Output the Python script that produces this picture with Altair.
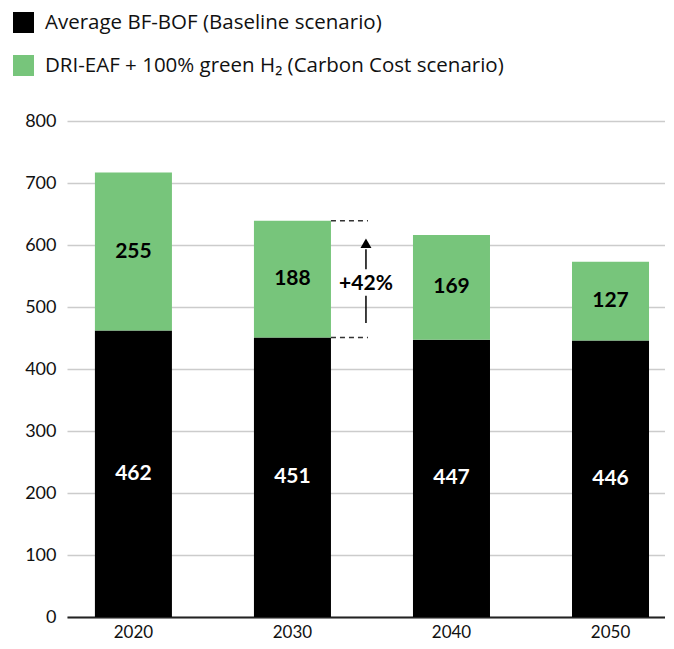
import altair as alt
import pandas as pd

years = ["2020", "2030", "2040", "2050"]
bf_bof = [462, 451, 447, 446]
dri_eaf = [255, 188, 169, 127]
series = ["Average BF-BOF (Baseline scenario)",
          "DRI-EAF + 100% green H\u2082 (Carbon Cost scenario)"]
colors = ["#000000", "#77C57B"]
label_colors = ["#ffffff", "#000000"]

# annotation between 2030 bars
ann_year = "2030"
ann_low = bf_bof[1]
ann_high = bf_bof[1] + dri_eaf[1]
ann_text = "+42%"
ann_text_y = 537
arrow_segments_lo = [474, 561]
arrow_segments_hi = [518, 593]
arrow_head_y = 603

FONT = "Lato"
LEGEND_FONT = "Open Sans"

rows = []
for i, y in enumerate(years):
    rows.append({"year": y, "series": series[0], "value": bf_bof[i], "order": 0,
                 "mid": bf_bof[i] / 2, "lc": label_colors[0]})
    rows.append({"year": y, "series": series[1], "value": dri_eaf[i], "order": 1,
                 "mid": bf_bof[i] + dri_eaf[i] / 2, "lc": label_colors[1]})
df = pd.DataFrame(rows)

xscale = alt.Scale(domain=years, paddingInner=0.5157, paddingOuter=0.138, align=0.636)
x_enc = alt.X("year:N", scale=xscale, sort=years,
              axis=alt.Axis(title=None, labelAngle=0, ticks=False, labelFontSize=17,
                            labelPadding=7, labelColor="#111", labelFont=FONT,
                            domain=True, domainColor="#222", domainWidth=2,
                            minExtent=21, maxExtent=21))

bars = alt.Chart(df).mark_bar().encode(
    x=x_enc,
    y=alt.Y("value:Q", stack="zero", scale=alt.Scale(domain=[0, 800]),
            axis=alt.Axis(title=None, values=list(range(0, 801, 100)), ticks=False,
                          domain=False, labelFontSize=18, labelPadding=11,
                          labelColor="#111", labelFont=FONT,
                          gridColor="#cccccc", gridWidth=1.5,
                          minExtent=54, maxExtent=54)),
    color=alt.Color("series:N", scale=alt.Scale(domain=series, range=colors),
                    legend=alt.Legend(title=None, orient="none", legendX=-54, legendY=-109,
                                      direction="vertical", symbolType="square",
                                      symbolSize=441, symbolStrokeWidth=0,
                                      labelFontSize=20.5, labelFont=LEGEND_FONT,
                                      labelColor="#111",
                                      labelOffset=11, rowPadding=22, padding=0,
                                      labelLimit=600)),
    order=alt.Order("order:Q"),
)

labels = alt.Chart(df).mark_text(font=FONT, fontSize=21, fontWeight="bold").encode(
    x=alt.X("year:N", sort=years),
    y=alt.Y("mid:Q"),
    text=alt.Text("value:Q"),
    color=alt.Color("lc:N", scale=None),
)

dash_df = pd.DataFrame({"year": [ann_year, ann_year], "y": [ann_low, ann_high]})
dashes = alt.Chart(dash_df).mark_rule(strokeDash=[5, 4], color="#333", strokeWidth=1.5,
                                      x2Offset=37).encode(
    x=alt.X("year:N", bandPosition=1, sort=years),
    x2=alt.X2("year:N", bandPosition=1),
    y="y:Q",
)

seg_df = pd.DataFrame({"year": [ann_year] * 2, "lo": arrow_segments_lo, "hi": arrow_segments_hi})
segs = alt.Chart(seg_df).mark_rule(color="#000", strokeWidth=1.5, xOffset=35).encode(
    x=alt.X("year:N", bandPosition=1, sort=years),
    y="lo:Q", y2="hi:Q",
)

head_df = pd.DataFrame({"year": [ann_year], "y": [arrow_head_y]})
head = alt.Chart(head_df).mark_point(shape="triangle-up", filled=True, opacity=1,
                                     color="#000", size=120, xOffset=35).encode(
    x=alt.X("year:N", bandPosition=1, sort=years),
    y="y:Q",
)

txt_df = pd.DataFrame({"year": [ann_year], "y": [ann_text_y], "t": [ann_text]})
txt = alt.Chart(txt_df).mark_text(font=FONT, fontSize=21, fontWeight="bold", color="#000",
                                  xOffset=35).encode(
    x=alt.X("year:N", bandPosition=1, sort=years),
    y="y:Q",
    text="t:N",
)

chart = alt.layer(bars, labels, dashes, segs, head, txt).properties(
    width=598, height=496,
    padding={"left": 5, "top": 4, "right": 0, "bottom": 0},
).configure_view(stroke=None)

chart.save("out.html", embed_options={"renderer": "svg", "actions": False})
